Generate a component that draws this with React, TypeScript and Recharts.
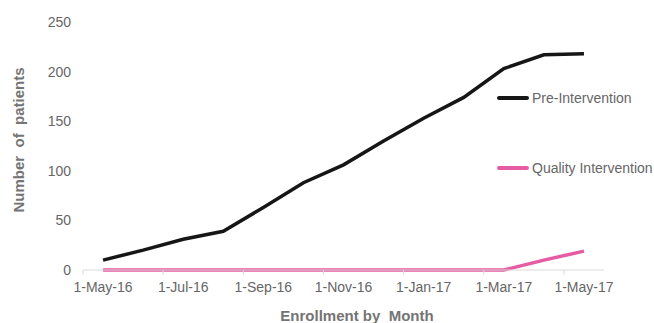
import { LineChart, Line, XAxis, YAxis, Legend, Label } from 'recharts'

const months = [
  '1-May-16', '1-Jun-16', '1-Jul-16', '1-Aug-16', '1-Sep-16', '1-Oct-16', '1-Nov-16',
  '1-Dec-16', '1-Jan-17', '1-Feb-17', '1-Mar-17', '1-Apr-17', '1-May-17',
]
const preIntervention = [10, 20, 31, 39, 63, 88, 106, 130, 153, 174, 203, 217, 218]
const qualityIntervention = [0, 0, 0, 0, 0, 0, 0, 0, 0, 0, 0, 10, 19]
const xTicks = [0, 2, 4, 6, 8, 10, 12]
const yTicks = [0, 50, 100, 150, 200, 250]

const data = months.map((month, i) => ({
  idx: i,
  month,
  pre: preIntervention[i],
  quality: qualityIntervention[i],
}))

const W = 654
const H = 323
const margin = { top: 22, right: 50, bottom: 23, left: 23 }
const Y_AXIS_W = 60
const plotW = W - margin.left - Y_AXIS_W - margin.right
const halfStep = plotW / months.length / 2

const FONT = '"Liberation Sans", Arial, sans-serif'
const GRAY = '#666666'
const TITLE_GRAY = '#747474'
const BLACK = '#161616'
const PINK = '#e65ca3'

const MonthTick = ({ x, y, payload }: any) => (
  <g>
    <line x1={x - halfStep} x2={x - halfStep} y1={y} y2={y + 5} stroke="#d9d9d9" />
    <text x={x} y={y + 22} textAnchor="middle" fill={GRAY} fontSize={14} fontFamily={FONT}>
      {months[payload.value]}
    </text>
  </g>
)

const renderLegend = ({ payload }: any) => (
  <div>
    {(payload || []).map((p: any) => (
      <div
        key={p.value}
        style={{ display: 'flex', alignItems: 'center', height: 20, marginBottom: 50 }}
      >
        <span style={{ width: 32, height: 4, background: p.color, borderRadius: 2 }} />
        <span style={{ marginLeft: 3, color: GRAY, fontSize: 14, fontFamily: FONT }}>
          {p.value}
        </span>
      </div>
    ))}
  </div>
)

export default function App() {
  return (
    <div style={{ position: 'absolute', left: 0, top: 0 }}>
      <LineChart width={W} height={H} data={data} margin={margin}>
        <XAxis
          dataKey="idx"
          type="number"
          domain={[-0.5, 12.5]}
          ticks={xTicks}
          interval={0}
          stroke="#d9d9d9"
          tickLine={false}
          tickSize={0}
          tickMargin={0}
          height={30}
          tick={<MonthTick />}
        >
          <Label
            content={() => (
              <text
                x={357}
                y={321}
                textAnchor="middle"
                fill={TITLE_GRAY}
                fontSize={15}
                fontWeight="bold"
                fontFamily={FONT}
                style={{ whiteSpace: 'pre' }}
              >
                {'Enrollment by  Month'}
              </text>
            )}
          />
        </XAxis>
        <YAxis
          width={Y_AXIS_W}
          domain={[0, 250]}
          ticks={yTicks}
          axisLine={false}
          tickLine={false}
          tickSize={0}
          tickMargin={12}
          tick={{ fill: GRAY, fontSize: 14, fontFamily: FONT }}
        >
          <Label
            content={() => (
              <text
                x={18}
                y={140}
                transform="rotate(-90 18 140)"
                textAnchor="middle"
                dominantBaseline="central"
                fill={TITLE_GRAY}
                fontSize={15}
                fontWeight="bold"
                fontFamily={FONT}
                style={{ whiteSpace: 'pre' }}
              >
                {'Number  of  patients'}
              </text>
            )}
          />
        </YAxis>
        <Legend
          layout="vertical"
          align="center"
          verticalAlign="middle"
          content={renderLegend}
          wrapperStyle={{ left: 497, top: 88, width: 160 }}
        />
        <Line
          type="linear"
          dataKey="pre"
          name="Pre-Intervention"
          stroke={BLACK}
          strokeWidth={3.5}
          dot={false}
          isAnimationActive={false}
        />
        <Line
          type="linear"
          dataKey="quality"
          name="Quality Intervention"
          stroke={PINK}
          strokeWidth={3.5}
          dot={false}
          isAnimationActive={false}
        />
      </LineChart>
    </div>
  )
}
